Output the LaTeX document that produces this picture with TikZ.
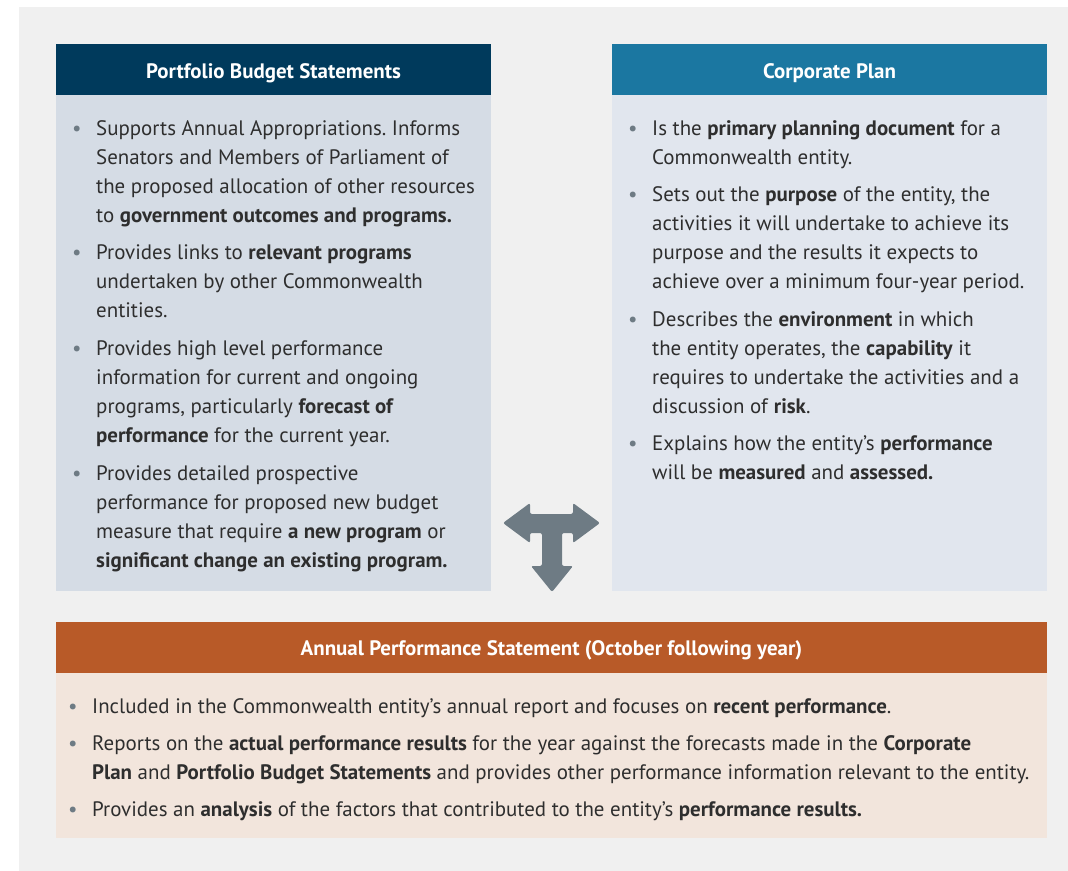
\documentclass[tikz,border=0pt]{standalone}
\usepackage{fontspec}
\setmainfont{PT Sans}
\usetikzlibrary{positioning}
\frenchspacing

\definecolor{pagegray}{HTML}{F0F0F0}
\definecolor{pbsnavy}{HTML}{003A5C}
\definecolor{cpteal}{HTML}{1B77A1}
\definecolor{apsorange}{HTML}{B85A28}
\definecolor{pbsfill}{HTML}{D5DCE5}
\definecolor{cpfill}{HTML}{E1E6EE}
\definecolor{apsfill}{HTML}{F2E5DC}
\definecolor{arrowgray}{HTML}{6E7B84}
\definecolor{bodytext}{HTML}{2E2E2E}

\newcommand{\bul}{\llap{\textcolor{arrowgray}{\textbullet}\hspace{14.5bp}}}

\tikzset{
  head/.style={inner sep=0pt, minimum height=51bp, text=white,
    text height=17bp, text depth=0bp,
    font=\fontsize{21}{24}\selectfont\bfseries},
  body/.style={inner sep=0pt},
  items/.style={inner sep=0pt, align=left, text=bodytext,
    font=\fontsize{21}{29.2}\selectfont\frenchspacing}
}

\begin{document}
\begin{tikzpicture}[x=1bp, y=-1bp]
\useasboundingbox (0,0) rectangle (1068,871);
\fill[pagegray] (19,7) rectangle (1068,871);
% portfolio budget statements
\node[head, fill=pbsnavy, minimum width=435bp](pbs) at (273.5,69.5) {Portfolio Budget Statements};
\node[body, fill=pbsfill, minimum width=435bp, minimum height=496bp, below=0pt of pbs](pbsbody) {};
% corporate plan
\node[head, fill=cpteal, minimum width=435bp](cp) at (829.5,69.5) {Corporate Plan};
\node[body, fill=cpfill, minimum width=435bp, minimum height=496bp, below=0pt of cp](cpbody) {};
% annual performance statement
\node[head, fill=apsorange, minimum width=991bp](aps) at (551.5,647) {Annual Performance Statement (October following year)};
\node[body, fill=apsfill, minimum width=991bp, minimum height=165bp, below=0pt of aps](apsbody) {};
%
\node[items, anchor=north west](pbstext) at (96,120) {%
\bul Supports Annual Appropriations. Informs\\
Senators and Members of Parliament of\\
the proposed allocation of other resources\\
to \textbf{government outcomes and programs.}\\[8.3bp]
\bul Provides links to \textbf{relevant programs}\\
undertaken by other Commonwealth\\
entities.\\[8.3bp]
\bul Provides high level performance\\
information for current and ongoing\\
programs, particularly \textbf{forecast of}\\
\textbf{performance} for the current year.\\[8.3bp]
\bul Provides detailed prospective\\
performance for proposed new budget\\
measure that require \textbf{a new program} or\\
\textbf{significant change an existing program.}};
%
\node[items, anchor=north west](cptext) at (652,120) {%
\bul Is the \textbf{primary planning document} for a\\
Commonwealth entity.\\[8.3bp]
\bul Sets out the \textbf{purpose} of the entity, the\\
activities it will undertake to achieve its\\
purpose and the results it expects to\\
achieve over a minimum four-year period.\\[8.3bp]
\bul Describes the \textbf{environment} in which\\
the entity operates, the \textbf{capability} it\\
requires to undertake the activities and a\\
discussion of \textbf{risk}.\\[8.3bp]
\bul Explains how the entity's \textbf{performance}\\
will be \textbf{measured} and \textbf{assessed.}};
%
\node[items, anchor=north west](apstext) at (92,698) {%
\bul Included in the Commonwealth entity's annual report and focuses on \textbf{recent performance}.\\[8bp]
\bul Reports on the \textbf{actual performance results} for the year against the forecasts made in the \textbf{Corporate}\\
\textbf{Plan} and \textbf{Portfolio Budget Statements} and provides other performance information relevant to the entity.\\[8bp]
\bul Provides an \textbf{analysis} of the factors that contributed to the entity's \textbf{performance results.}};
%
\fill[arrowgray, rounded corners=2bp] (503,523) -- (530,503) -- (530,514) -- (573,514)
  -- (573,503) -- (600,523) -- (573,543) -- (573,533) -- (562,533) -- (562,566)
  -- (573,566) -- (552,592) -- (531,566) -- (542,566) -- (542,533) -- (530,533)
  -- (530,543) -- cycle;
\end{tikzpicture}
\end{document}
